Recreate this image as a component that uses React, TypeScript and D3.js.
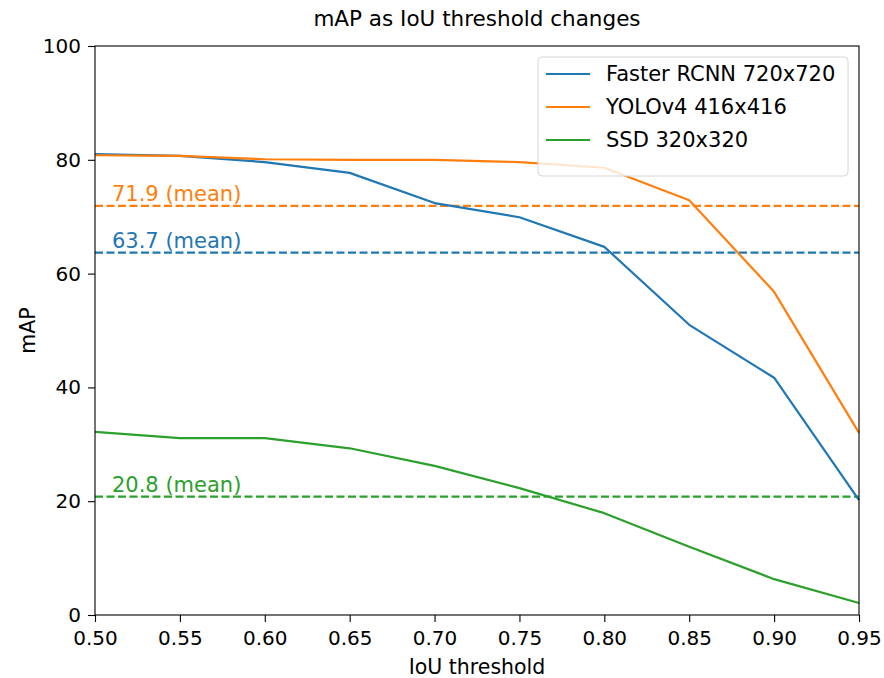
import React, { useEffect, useRef } from 'react';
import * as d3 from 'd3';

const thresholds = [0.5, 0.55, 0.6, 0.65, 0.7, 0.75, 0.8, 0.85, 0.9, 0.95];
const fasterRcnn = [81.0, 80.7, 79.6, 77.7, 72.4, 69.9, 64.7, 51.0, 41.7, 20.2];
const yolov4 = [80.8, 80.7, 80.1, 80.0, 80.0, 79.6, 78.6, 72.9, 56.8, 32.0];
const ssd = [32.2, 31.1, 31.1, 29.3, 26.2, 22.3, 17.9, 12.0, 6.3, 2.1];
const seriesNames = ['Faster RCNN 720x720', 'YOLOv4 416x416', 'SSD 320x320'];
const meanValues = [63.7, 71.9, 20.8];
const colors = ['#1f77b4', '#ff7f0e', '#2ca02c'];
const xTicks = [0.5, 0.55, 0.6, 0.65, 0.7, 0.75, 0.8, 0.85, 0.9, 0.95];
const yTicks = [0, 20, 40, 60, 80, 100];

function App() {
  const ref = useRef<SVGSVGElement>(null);

  useEffect(() => {
    if (!ref.current) return;
    const svg = d3.select(ref.current);
    svg.selectAll('*').remove();

    const W = 884, H = 678;
    const margin = { top: 46, right: 25, bottom: 63, left: 95 };
    const width = W - margin.left - margin.right;
    const height = H - margin.top - margin.bottom;
    const font = 'DejaVu Sans, sans-serif';
    const fs = '20px';

    svg.attr('width', W).attr('height', H).style('font-family', font);
    svg.append('rect').attr('width', W).attr('height', H).attr('fill', '#fff');

    const g = svg.append('g').attr('transform', `translate(${margin.left},${margin.top})`);

    const x = d3.scaleLinear().domain([0.5, 0.95]).range([0, width]);
    const y = d3.scaleLinear().domain([0, 100]).range([height, 0]);

    const allSeries = [fasterRcnn, yolov4, ssd];

    // mean lines and their labels
    meanValues.forEach((m, i) => {
      g.append('line')
        .attr('x1', 0).attr('x2', width)
        .attr('y1', y(m)).attr('y2', y(m))
        .attr('stroke', colors[i])
        .attr('stroke-width', 2.2)
        .attr('stroke-dasharray', '8,3.5');
      g.append('text')
        .attr('x', x(0.51))
        .attr('y', y(m) - 5)
        .attr('fill', colors[i])
        .style('font-size', '21px')
        .text(`${m.toFixed(1)} (mean)`);
    });

    const line = d3.line<number>()
      .x((_, i) => x(thresholds[i]))
      .y(d => y(d));

    allSeries.forEach((s, i) => {
      g.append('path')
        .datum(s)
        .attr('fill', 'none')
        .attr('stroke', colors[i])
        .attr('stroke-width', 2.2)
        .attr('stroke-linejoin', 'round')
        .attr('d', line);
    });

    // axes
    const xAxis = g.append('g')
      .attr('transform', `translate(0,${height})`)
      .call(d3.axisBottom(x).tickValues(xTicks).tickFormat(d3.format('.2f')).tickSizeOuter(0).tickSize(7).tickPadding(9));
    const yAxis = g.append('g')
      .call(d3.axisLeft(y).tickValues(yTicks).tickSizeOuter(0).tickSize(7).tickPadding(7));

    [xAxis, yAxis].forEach(a => {
      a.select('.domain').remove();
      a.selectAll('line').attr('stroke', '#000').attr('stroke-width', 1.1);
      a.selectAll('text').style('font-size', fs).style('font-family', font).attr('fill', '#000');
    });

    // frame
    g.append('rect')
      .attr('width', width).attr('height', height)
      .attr('fill', 'none').attr('stroke', '#000').attr('stroke-width', 1.1);

    // title and axis labels
    svg.append('text')
      .attr('x', margin.left + width / 2).attr('y', 26)
      .attr('text-anchor', 'middle')
      .style('font-size', '21.5px')
      .text('mAP as IoU threshold changes');
    svg.append('text')
      .attr('x', margin.left + width / 2).attr('y', 674)
      .attr('text-anchor', 'middle')
      .style('font-size', '20.5px')
      .text('IoU threshold');
    svg.append('text')
      .attr('transform', `translate(35,${margin.top + height / 2}) rotate(-90)`)
      .attr('text-anchor', 'middle')
      .style('font-size', '20.5px')
      .text('mAP');

    // legend
    const lg = svg.append('g').attr('transform', 'translate(538,57)');
    lg.append('rect')
      .attr('width', 310).attr('height', 119)
      .attr('rx', 4)
      .attr('fill', '#fff').attr('fill-opacity', 0.8)
      .attr('stroke', '#d6d6d6');
    seriesNames.forEach((name, i) => {
      const cy = 17 + i * 33;
      lg.append('line')
        .attr('x1', 8).attr('x2', 52)
        .attr('y1', cy).attr('y2', cy)
        .attr('stroke', colors[i]).attr('stroke-width', 2.2);
      lg.append('text')
        .attr('x', 68).attr('y', cy)
        .attr('dy', '0.35em')
        .style('font-size', '21px')
        .text(name);
    });
  }, []);

  return <svg ref={ref} style={{ position: 'absolute', left: 0, top: 0 }} />;
}

export default App;
